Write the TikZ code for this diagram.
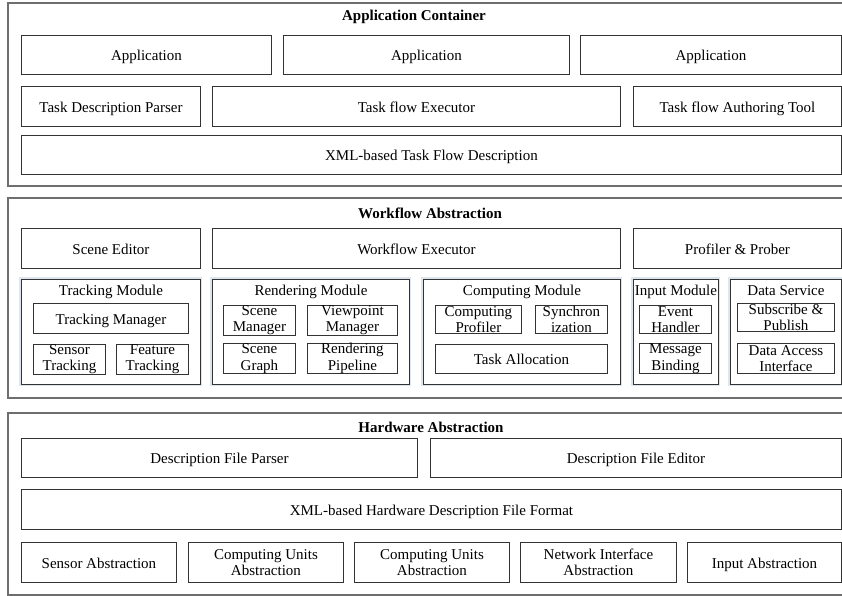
\documentclass[tikz,border=0pt]{standalone}
\usepackage{fontspec}
\setmainfont{Liberation Serif}
\usepackage{xcolor}
\usepackage{tikz}
\usetikzlibrary{positioning}
\definecolor{ink}{HTML}{333333}
\definecolor{frame}{HTML}{6E6E6E}
\definecolor{halo}{HTML}{DDE5EE}

\begin{document}
\begin{tikzpicture}[
  x=1pt, y=-1pt,
  every node/.style={font=\fontsize{15}{16.5}\selectfont},
  box/.style={draw=ink, line width=0.9pt, anchor=north west, align=center, inner sep=0pt},
  one/.style={box, text height=11.5pt, text depth=0pt},
  layer/.style={draw=frame, line width=1.6pt, anchor=north west, inner sep=0pt},
  module/.style={box, fill=white, preaction={draw=halo, line width=4pt}},
  modtitle/.style={anchor=center, inner sep=0pt, text height=10.5pt, text depth=3.5pt},
  title/.style={font=\fontsize{15}{16.5}\selectfont\bfseries, inner sep=0pt, text height=10.5pt, text depth=3.5pt}
]
  \useasboundingbox (0,0) rectangle (842,595);
  \clip (0,0) rectangle (842,595);

  % layers
  \node[layer, minimum width=848pt, minimum height=183pt] (appc) at (7,2) {};
  \node[layer, minimum width=848pt, minimum height=200pt] (wfa) at (7,197) {};
  \node[layer, minimum width=848pt, minimum height=182pt] (hwa) at (7,412) {};
  \node[title] (appt) at (414,16.5) {Application Container};
  \node[title] (wft) at (430,214.5) {Workflow Abstraction};
  \node[title] (hwt) at (431,428.5) {Hardware Abstraction};

  % application container
  \node[one, minimum width=250pt, minimum height=39pt] (app1) at (21,35) {Application};
  \node[one, minimum width=286pt, minimum height=39pt] (app2) at (283,35) {Application};
  \node[one, minimum width=261pt, minimum height=39pt] (app3) at (580,35) {Application};
  \node[one, minimum width=179pt, minimum height=40pt] (parser) at (21,86) {Task Description Parser};
  \node[one, minimum width=408pt, minimum height=40pt] (executor) at (212,86) {Task flow Executor};
  \node[one, minimum width=208pt, minimum height=40pt] (authoring) at (633,86) {Task flow Authoring Tool};
  \node[one, minimum width=820pt, minimum height=39pt] (taskxml) at (21,135) {XML-based Task Flow Description};

  % workflow abstraction
  \node[one, minimum width=179pt, minimum height=40pt] (editor) at (21,228) {Scene Editor};
  \node[one, minimum width=408pt, minimum height=40pt] (wfexec) at (212,228) {Workflow Executor};
  \node[one, minimum width=208pt, minimum height=40pt] (prober) at (633,228) {Profiler \& Prober};

  \node[module, minimum width=179pt, minimum height=105pt] (tracking) at (21,279) {};
  \node[module, minimum width=197pt, minimum height=105pt] (rendering) at (212,279) {};
  \node[module, minimum width=197pt, minimum height=105pt] (computing) at (423,279) {};
  \node[module, minimum width=85pt, minimum height=105pt] (input) at (633,279) {};
  \node[module, minimum width=111pt, minimum height=105pt] (data) at (730,279) {};
  \node[modtitle] at (tracking.north |- 0,292) {Tracking Module};
  \node[modtitle] at (rendering.north |- 0,292) {Rendering Module};
  \node[modtitle] at (computing.north |- 0,292) {Computing Module};
  \node[modtitle] at (input.north |- 0,292) {Input Module};
  \node[modtitle] at (data.north |- 0,292) {Data Service};

  \node[one, minimum width=155pt, minimum height=30pt] (trackmgr) at (33,303) {Tracking Manager};
  \node[box, minimum width=72pt, minimum height=29pt] (sensortr) at (33,344) {Sensor\\Tracking};
  \node[box, minimum width=72pt, minimum height=29pt] (featuretr) at (116,344) {Feature\\Tracking};

  \node[box, minimum width=72pt, minimum height=28pt] (scenemgr) at (223,305) {Scene\\Manager};
  \node[box, minimum width=90pt, minimum height=28pt] (viewmgr) at (307,305) {Viewpoint\\Manager};
  \node[box, minimum width=72pt, minimum height=30pt] (scenegr) at (223,343) {Scene\\Graph};
  \node[box, minimum width=90pt, minimum height=30pt] (pipeline) at (307,343) {Rendering\\Pipeline};

  \node[box, minimum width=86pt, minimum height=28pt] (compprof) at (435,305) {Computing\\Profiler};
  \node[box, minimum width=72pt, minimum height=28pt] (sync) at (535,305) {Synchron\\ization};
  \node[one, minimum width=172pt, minimum height=29pt] (alloc) at (435,344) {Task Allocation};

  \node[box, minimum width=72pt, minimum height=28pt] (event) at (639,305) {Event\\Handler};
  \node[box, minimum width=72pt, minimum height=30pt] (binding) at (639,343) {Message\\Binding};

  \node[box, minimum width=97pt, minimum height=28pt] (pubsub) at (737,303) {Subscribe \&\\Publish};
  \node[box, minimum width=97pt, minimum height=30pt] (access) at (737,343) {Data Access\\Interface};

  % hardware abstraction
  \node[one, minimum width=396pt, minimum height=39pt] (dfparser) at (21,438) {Description File Parser};
  \node[one, minimum width=411pt, minimum height=39pt] (dfeditor) at (430,438) {Description File Editor};
  \node[one, minimum width=820pt, minimum height=40pt] (hwxml) at (21,489) {XML-based Hardware Description File Format};
  \node[one, minimum width=155pt, minimum height=40pt] (sensorabs) at (21,542) {Sensor Abstraction};
  \node[box, minimum width=155pt, minimum height=40pt] (cuabs1) at (188,542) {Computing Units\\Abstraction};
  \node[box, minimum width=155pt, minimum height=40pt] (cuabs2) at (354,542) {Computing Units\\Abstraction};
  \node[box, minimum width=156pt, minimum height=40pt] (netabs) at (520,542) {Network Interface\\Abstraction};
  \node[one, minimum width=154pt, minimum height=40pt] (inputabs) at (687,542) {Input Abstraction};
\end{tikzpicture}
\end{document}
